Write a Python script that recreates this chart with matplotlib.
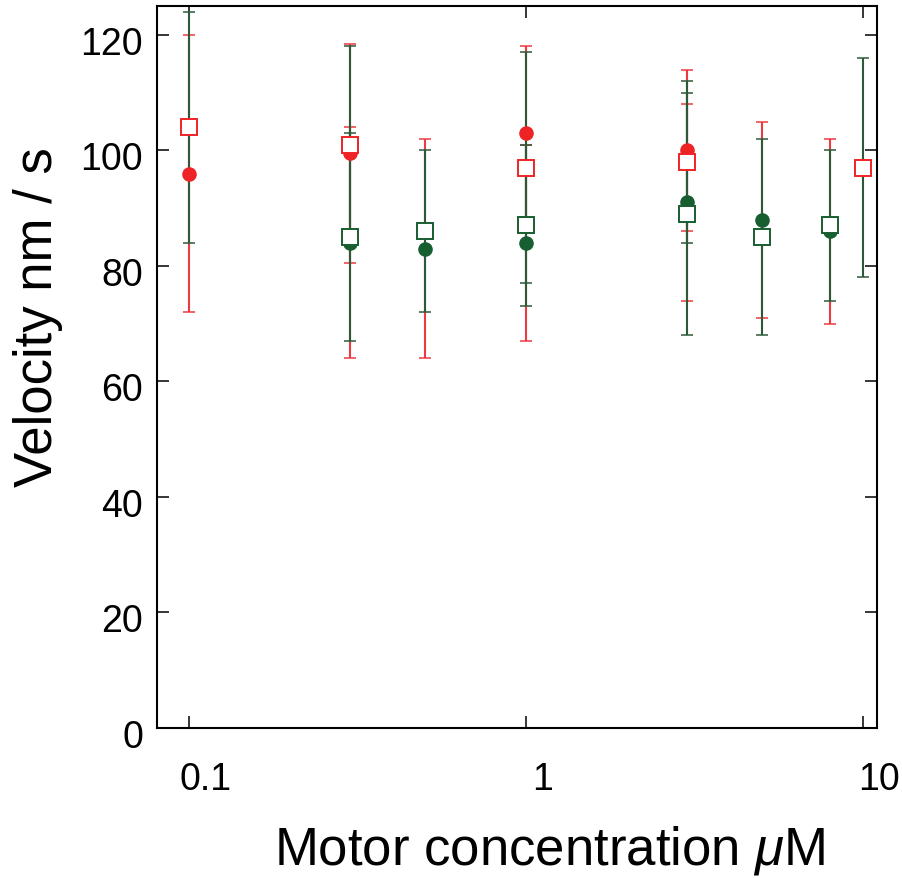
import matplotlib
matplotlib.use("Agg")
import matplotlib.pyplot as plt
import matplotlib.transforms as mtransforms

# Data
red_circ_x = [0.1, 0.3, 1, 3]
red_circ_y = [96, 99.5, 103, 100]
red_circ_err = [24, 19, 15, 14]

red_sq_x = [0.1, 0.3, 1, 3, 10]
red_sq_y = [104, 101, 97, 98, 97]
red_sq_err = [20, 17, 20, 14, 19]

green_circ_x = [0.3, 0.5, 1, 3, 5, 8]
green_circ_y = [84, 83, 84, 91, 88, 86]
green_circ_err = [20, 19, 17, 17, 17, 16]

green_sq_x = [0.3, 0.5, 1, 3, 5, 8]
green_sq_y = [85, 86, 87, 89, 85, 87]
green_sq_err = [18, 14, 14, 21, 17, 13]

x_ticks = [0.1, 1, 10]
x_tick_labels = ["0.1", "1", "10"]
y_ticks = [0, 20, 40, 60, 80, 100, 120]

# Style
red = "#ee2326"
red_bar = "#ec3b40"
green = "#175e30"
green_bar = "#2c5a39"

plt.rcParams["font.family"] = ["Liberation Sans", "DejaVu Sans"]
plt.rcParams["mathtext.fontset"] = "custom"
plt.rcParams["mathtext.rm"] = "Liberation Sans"
plt.rcParams["mathtext.it"] = "Liberation Sans:italic"

W, H = 902, 879
fig = plt.figure(figsize=(W / 100, H / 100), dpi=100)
ax = fig.add_axes([157 / W, 1 - 729 / H, (877 - 157) / W, (729 - 7) / H])

bar_kw = dict(fmt="none", elinewidth=1.5, capsize=4, capthick=1.1)

# error bars: circles get red bars, squares get green bars (green drawn over red)
ax.errorbar(red_circ_x, red_circ_y, yerr=red_circ_err, ecolor=red_bar, zorder=2, **bar_kw)
ax.errorbar(green_circ_x, green_circ_y, yerr=green_circ_err, ecolor=red_bar, zorder=2, **bar_kw)
ax.errorbar(red_sq_x, red_sq_y, yerr=red_sq_err, ecolor=green_bar, zorder=3, **bar_kw)
ax.errorbar(green_sq_x, green_sq_y, yerr=green_sq_err, ecolor=green_bar, zorder=3, **bar_kw)

# markers
ax.plot(green_circ_x, green_circ_y, "o", color=green, ms=10.5, mew=0, zorder=4)
ax.plot(red_circ_x, red_circ_y, "o", color=red, ms=10.5, mew=0, zorder=4)
ax.plot(green_sq_x, green_sq_y, "s", mfc="white", mec=green, ms=11.5, mew=1.4, zorder=5)
ax.plot(red_sq_x, red_sq_y, "s", mfc="white", mec=red, ms=11.5, mew=1.4, zorder=5)

ax.set_xscale("log")
ax.set_xlim(0.0802, 11.0)
ax.set_ylim(0, 125)
ax.set_xticks(x_ticks)
ax.set_xticklabels(x_tick_labels)
ax.xaxis.set_minor_locator(matplotlib.ticker.NullLocator())
ax.set_yticks(y_ticks)

for s in ax.spines.values():
    s.set_linewidth(1.5)
ax.tick_params(direction="in", length=8.6, width=1.1, top=True, right=True,
               labelsize=27, colors="black")
ax.tick_params(axis="x", pad=24)
ax.tick_params(axis="y", pad=10)

# the tick labels sit a bit right of their ticks in the original
offset = mtransforms.ScaledTranslation(16 / 100, 0, fig.dpi_scale_trans)
for lab in ax.get_xticklabels():
    lab.set_transform(lab.get_transform() + offset)
offset_y = mtransforms.ScaledTranslation(0, -5 / 100, fig.dpi_scale_trans)
for lab in ax.get_yticklabels():
    lab.set_transform(lab.get_transform() + offset_y)

ax.set_ylabel("Velocity nm / s", fontsize=38)
ax.yaxis.set_label_coords(-0.1306, 0.571)
ax.set_xlabel("Motor concentration $\\mu$M", fontsize=38)
ax.xaxis.label.set_va("baseline")
ax.xaxis.set_label_coords(0.546, -0.188)

fig.savefig("out.png", dpi=100)
